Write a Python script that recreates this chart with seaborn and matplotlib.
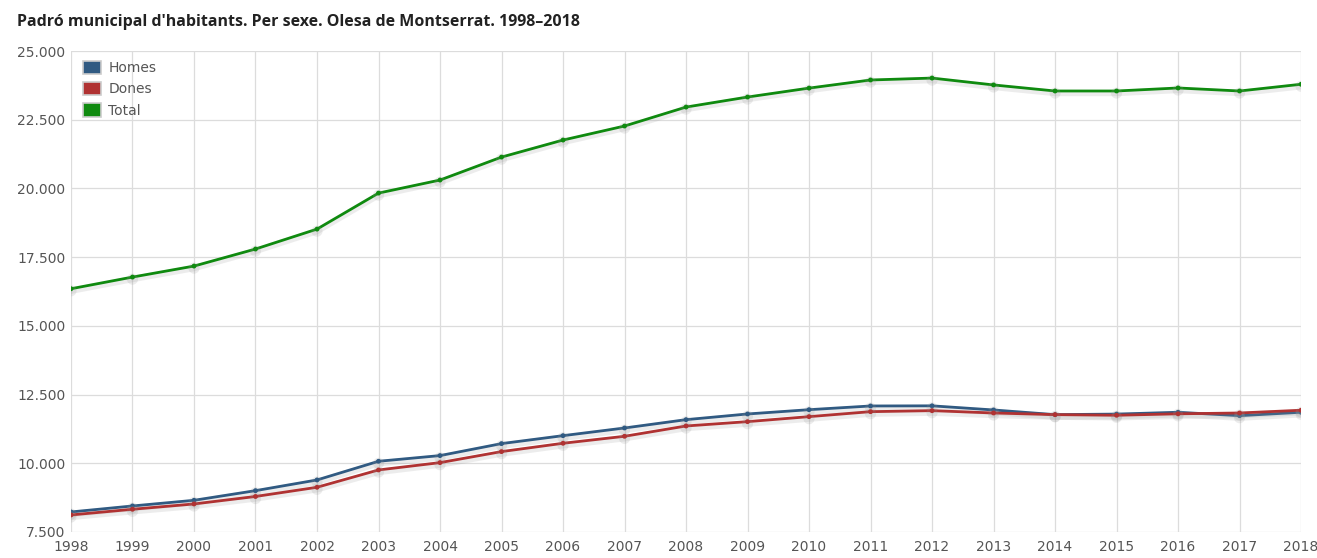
import numpy as np
import pandas as pd
import matplotlib
matplotlib.use("Agg")
import matplotlib.pyplot as plt
import matplotlib.patheffects as pe
from matplotlib.patches import Patch
from matplotlib.ticker import FuncFormatter
import seaborn as sns

# data
years = list(range(1998, 2019))
homes = [8229, 8447, 8653, 9004, 9393, 10073, 10280, 10716, 11005, 11284, 11587,
         11794, 11950, 12085, 12090, 11940, 11770, 11790, 11856, 11732, 11856]
dones = [8120, 8327, 8520, 8792, 9127, 9757, 10024, 10425, 10728, 10982, 11357,
         11515, 11697, 11878, 11915, 11830, 11770, 11747, 11800, 11830, 11930]
total = [16350, 16775, 17175, 17795, 18520, 19830, 20305, 21140, 21760, 22270, 22960,
         23325, 23650, 23945, 24015, 23765, 23545, 23545, 23655, 23545, 23790]

series = ["Homes", "Dones", "Total"]
colors = {"Homes": "#305a82", "Dones": "#b03232", "Total": "#0f8a0f"}

df = pd.DataFrame({"Any": years * 3,
                   "Habitants": homes + dones + total,
                   "Serie": np.repeat(series, len(years))})

sns.set_style("white")
plt.rcParams["font.family"] = ["DejaVu Sans"]

fig = plt.figure(figsize=(13.17, 5.58), dpi=100)
ax = fig.add_axes([0.0539, 0.0466, 0.934, 0.862])

sns.lineplot(data=df, x="Any", y="Habitants", hue="Serie", palette=colors,
             marker="o", markersize=3.5, markeredgewidth=0, linewidth=2,
             legend=False, ax=ax)
for ln in ax.get_lines():
    ln.set_path_effects([pe.SimpleLineShadow(offset=(0, -1.5), shadow_color="#999999", alpha=0.18, linewidth=4.5),
                         pe.Normal()])

ax.set_xlim(1998, 2018)
ax.set_ylim(7500, 25000)
ax.set_xticks(years)
ax.set_yticks(np.arange(7500, 25001, 2500))
ax.yaxis.set_major_formatter(FuncFormatter(lambda v, p: f"{v:,.0f}".replace(",", ".")))
ax.grid(True, color="#dcdcdc", linewidth=0.9)
ax.set_axisbelow(True)
for s in ax.spines.values():
    s.set_visible(False)
ax.tick_params(axis="both", labelsize=10, colors="#555555", length=0)
ax.tick_params(axis="x", pad=6)
ax.tick_params(axis="y", pad=4)
ax.set_xlabel("")
ax.set_ylabel("")

handles = [Patch(facecolor=colors[s], edgecolor="#cccccc", linewidth=1.2, label=s) for s in series]
leg = ax.legend(handles=handles, loc="upper left", bbox_to_anchor=(0.002, 1.0), frameon=False,
                fontsize=10, handlelength=1.3, handleheight=1.1, handletextpad=0.5,
                labelspacing=0.5, borderaxespad=0.3)
for t in leg.get_texts():
    t.set_color("#555555")

fig.text(0.013, 0.96, "Padró municipal d'habitants. Per sexe. Olesa de Montserrat. 1998–2018",
         fontsize=11.5, fontweight="bold", color="#222222", family=["Open Sans", "DejaVu Sans"],
         va="center", ha="left")

fig.savefig("out.png", dpi=100)
